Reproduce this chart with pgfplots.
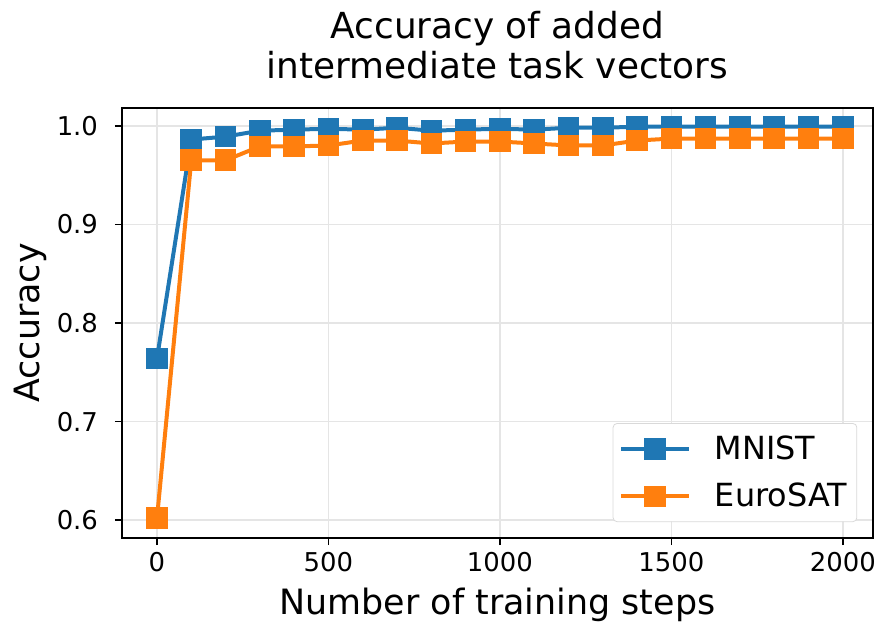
\documentclass[border=0pt]{standalone}
\usepackage{fontspec}
\setmainfont{DejaVu Sans}
\usepackage{pgfplots}
\pgfplotsset{compat=1.18}
\definecolor{tabblue}{HTML}{1F77B4}
\definecolor{taborange}{HTML}{FF7F0E}
\begin{document}
\begin{tikzpicture}
\begin{axis}[
  scale only axis,
  width=375.5bp, height=215bp,
  xmin=-102, xmax=2088,
  ymin=0.582, ymax=1.018,
  xtick={0,500,1000,1500,2000},
  ytick={0.6,0.7,0.8,0.9,1.0},
  xticklabel style={/pgf/number format/set thousands separator={}},
  yticklabel style={xshift=-5bp, /pgf/number format/fixed, /pgf/number format/fixed zerofill, /pgf/number format/precision=1},
  /pgf/number format/assume math mode=true,
  tick label style={font=\fontsize{13}{15}\selectfont},
  tick align=outside, tick pos=left,
  major tick length=3.5bp,
  every tick/.style={black, line width=0.8bp},
  axis line style={line width=1bp},
  grid=major,
  major grid style={gray!20, line width=0.8bp},
  title={Accuracy of added\\intermediate task vectors},
  title style={font=\fontsize{18}{20}\selectfont, align=center, yshift=5bp},
  xlabel={Number of training steps},
  ylabel={Accuracy},
  xlabel style={yshift=-1.5bp},
  ylabel style={yshift=-2bp},
  label style={font=\fontsize{17.5}{21}\selectfont},
  legend style={at={(0.979,0.037)}, anchor=south east, draw=gray!30, rounded corners=2bp,
    font=\fontsize{16}{19}\selectfont, row sep=6.5bp, inner xsep=3bp, inner ysep=4bp},
  legend cell align=left,
  legend image code/.code={\draw[mark repeat=2,mark phase=2] plot coordinates {(0cm,0cm)(0.6cm,0cm)(1.2cm,0cm)};\path (1.55cm,0);},
  every axis plot/.append style={line width=2bp, mark=square*, mark size=4.4bp},
]
\addplot[color=tabblue] coordinates {
(0,0.764) (100,0.986) (200,0.989) (300,0.995) (400,0.996) (500,0.997) (600,0.996)
(700,0.998) (800,0.995) (900,0.996) (1000,0.997) (1100,0.996) (1200,0.998)
(1300,0.998) (1400,0.999) (1500,0.999) (1600,0.999) (1700,0.999) (1800,0.999)
(1900,0.999) (2000,0.999)};
\addlegendentry{MNIST}
\addplot[color=taborange] coordinates {
(0,0.602) (100,0.965) (200,0.965) (300,0.979) (400,0.979) (500,0.980) (600,0.985)
(700,0.985) (800,0.982) (900,0.984) (1000,0.984) (1100,0.982) (1200,0.980)
(1300,0.980) (1400,0.985) (1500,0.987) (1600,0.987) (1700,0.987) (1800,0.987)
(1900,0.987) (2000,0.987)};
\addlegendentry{EuroSAT}
\end{axis}
\pgfresetboundingbox
\path ([shift={(-61bp,-46bp)}]current axis.south west) rectangle ([shift={(2bp,54bp)}]current axis.north east);
\end{tikzpicture}
\end{document}
